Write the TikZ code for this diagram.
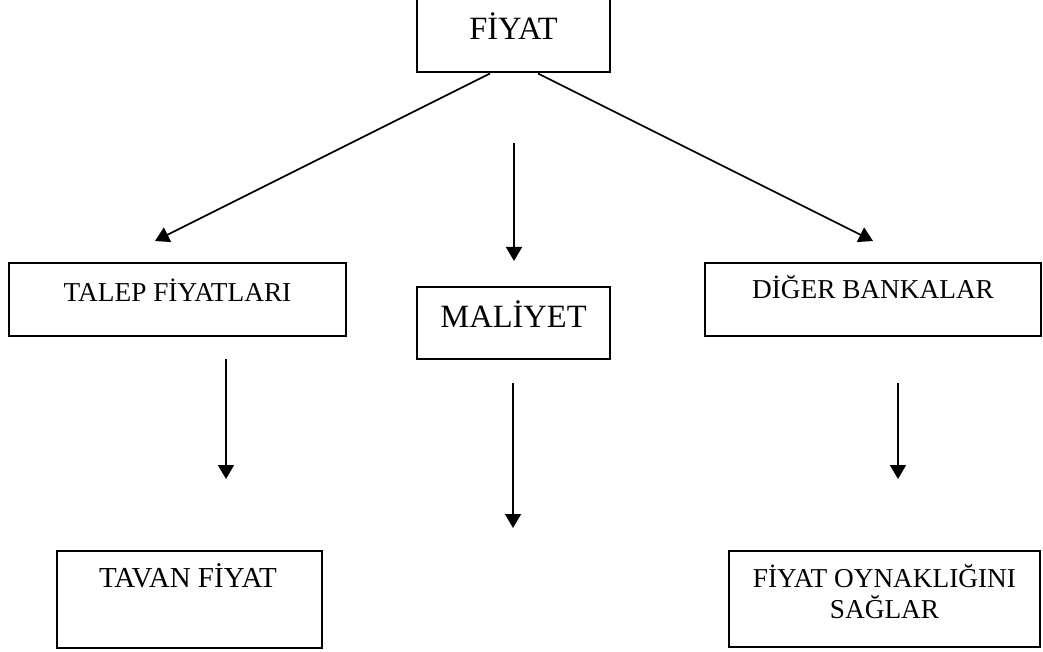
\documentclass[tikz,border=0pt]{standalone}
\usepackage{fontspec}
\setmainfont{Liberation Serif}
\usetikzlibrary{arrows.meta}
\begin{document}
\begin{tikzpicture}[x=1pt,y=-1pt,
  box/.style={draw,line width=2pt,rectangle,inner sep=0pt},
  lbl/.style={anchor=base,inner sep=0pt,font=\fontsize{27.3}{31}\selectfont},
  biglbl/.style={anchor=base,inner sep=0pt,font=\fontsize{32.5}{38}\selectfont},
  arr/.style={line width=1.6pt,-{Triangle[width=16pt,length=14pt]}}]
\useasboundingbox (0,0) rectangle (1043,652);

% boxes (centre, width, height)
\node[box,minimum width=193,minimum height=73] (fiyat) at (513.5,36) {};
\node[box,minimum width=337,minimum height=73] (talep) at (177.5,299.5) {};
\node[box,minimum width=193,minimum height=72] (maliyet) at (513.5,323) {};
\node[box,minimum width=336,minimum height=73] (diger) at (873,299.5) {};
\node[box,minimum width=265,minimum height=97] (tavan) at (189.5,599.5) {};
\node[box,minimum width=311,minimum height=96] (oyn) at (884.5,599) {};

% texts
\node[biglbl] (tfiyat) at (513.5,40) {FİYAT};
\node[lbl] (ttalep) at (177.5,301) {TALEP FİYATLARI};
\node[lbl] (tdiger) at (873,298) {DİĞER BANKALAR};
\node[biglbl] (tmaliyet) at (513.5,327) {MALİYET};
\node[lbl,font=\fontsize{29}{31}\selectfont] (ttavan) at (188,587) {TAVAN FİYAT};
\node[lbl,align=center,anchor=north] (toyn) at (884.5,564) {FİYAT OYNAKLIĞINI\\SAĞLAR};

% free arrow ends
\coordinate (lt) at (155,241);
\coordinate (rt) at (873,241);
\coordinate (ms) at (514,143);
\coordinate (mt) at (514,261);
\coordinate (ls) at (226,359);
\coordinate (le) at (226,479);
\coordinate (cs) at (513,383);
\coordinate (ce) at (513,528);
\coordinate (rs) at (898,383);
\coordinate (re) at (898,479);

% connectors
\draw[arr] ([xshift=-23.5pt]fiyat.south) -- (lt);
\draw[arr] ([xshift=24.5pt]fiyat.south) -- (rt);
\draw[arr] (ms) -- (mt);
\draw[arr] (ls) -- (le);
\draw[arr] (cs) -- (ce);
\draw[arr] (rs) -- (re);
\end{tikzpicture}
\end{document}
